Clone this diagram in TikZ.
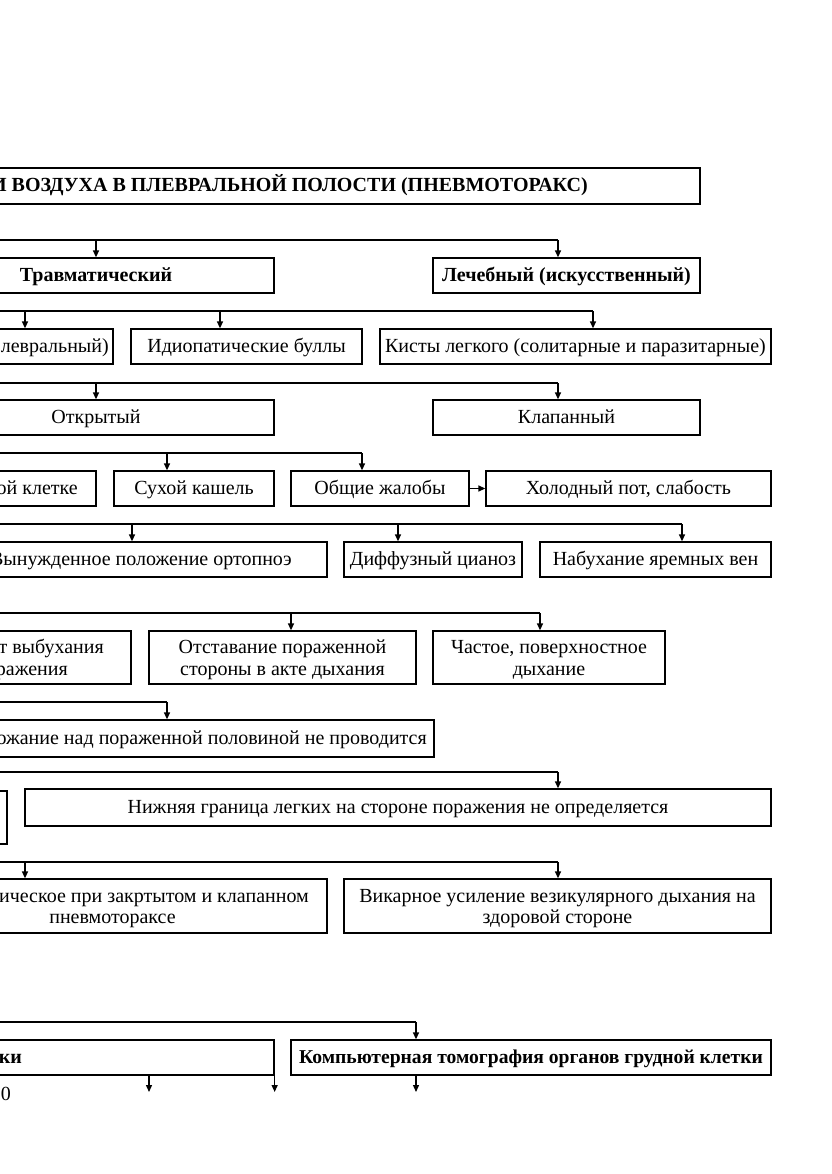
\documentclass[tikz,border=0pt]{standalone}
\usepackage{fontspec}
\setmainfont{Liberation Serif}
\usetikzlibrary{arrows.meta,calc}
\begin{document}
\begin{tikzpicture}[x=1pt,y=-1pt,
  bx/.style={draw, line width=1.3pt, inner sep=0pt, align=center, text height=15pt, text depth=3pt, font=\fontsize{20}{22}\selectfont},
  tx/.style={inner sep=0pt, align=center, text height=15pt, text depth=3pt, font=\fontsize{20}{22}\selectfont},
  btx/.style={inner sep=0pt, text height=15pt, text depth=3pt, font=\bfseries\fontsize{20}{22}\selectfont},
  ln/.style={line width=1.3pt},
  arr/.style={line width=1.3pt, -{Triangle[length=7pt,width=6pt]}}]
\useasboundingbox (0,0) rectangle (831,1174);
\clip (0,0) rectangle (831,1174);

% ---- title
\node[bx, minimum width=800pt, minimum height=36pt] (title) at (300,186) {};
\node[btx, anchor=east] (titlet) at (588,186) {И ВОЗДУХА В ПЛЕВРАЛЬНОЙ ПОЛОСТИ (ПНЕВМОТОРАКС)};

% ---- row 2
\node[bx, minimum width=356pt, minimum height=35pt] (trav) at (96,275.5) {\bfseries Травматический};
\node[bx, minimum width=267pt, minimum height=35pt] (lech) at (566.5,275.5) {\bfseries Лечебный (искусственный)};
\coordinate (b2w) at (-20,240); \coordinate (b2e) at (558,240);
\draw[ln] (b2w) -- (b2e);
\draw[arr] (b2w -| trav.north) -- (trav.north);
\draw[arr] (b2e) -- (b2e |- lech.north);

% ---- row 3
\node[bx, minimum width=263pt, minimum height=35pt] (spont) at (-18.5,346.5) {};
\node[tx, anchor=east] (spontt) at (109,346.5) {левральный)};
\node[bx, minimum width=231pt, minimum height=35pt] (idio) at (246.5,346.5) {Идиопатические буллы};
\node[bx, minimum width=391pt, minimum height=35pt] (kist) at (575.5,346.5) {Кисты легкого (солитарные и паразитарные)};
\coordinate (b3w) at (-20,311); \coordinate (b3e) at (593,311);
\coordinate (a3a) at (25,311); \coordinate (a3b) at (220,311);
\draw[ln] (b3w) -- (b3e);
\draw[arr] (a3a) -- (a3a |- spont.north);
\draw[arr] (a3b) -- (a3b |- idio.north);
\draw[arr] (b3e) -- (b3e |- kist.north);

% ---- row 4
\node[bx, minimum width=356pt, minimum height=35pt] (otkr) at (96,417.5) {Открытый};
\node[bx, minimum width=267pt, minimum height=35pt] (klap) at (566.5,417.5) {Клапанный};
\coordinate (b4w) at (-20,383); \coordinate (b4e) at (558,383);
\draw[ln] (b4w) -- (b4e);
\draw[arr] (b4w -| otkr.north) -- (otkr.north);
\draw[arr] (b4e) -- (b4e |- klap.north);

% ---- row 5
\node[bx, minimum width=246pt, minimum height=35pt] (bol) at (-27,488.5) {};
\node[tx, anchor=east] (bolt) at (78,488.5) {ой клетке};
\node[bx, minimum width=160pt, minimum height=35pt] (suh) at (194,488.5) {Сухой кашель};
\node[bx, minimum width=178pt, minimum height=35pt] (obsh) at (380,488.5) {Общие жалобы};
\node[bx, minimum width=285pt, minimum height=35pt] (holod) at (628.5,488.5) {Холодный пот, слабость};
\coordinate (b5w) at (-20,453); \coordinate (b5e) at (362,453);
\coordinate (a5a) at (167,453);
\draw[ln] (b5w) -- (b5e);
\draw[arr] (a5a) -- (a5a |- suh.north);
\draw[arr] (b5e) -- (b5e |- obsh.north);
\draw[arr] (obsh.east) -- (holod.west);

% ---- row 6
\node[bx, minimum width=477pt, minimum height=35pt] (vyn) at (88.5,559.5) {};
\node[tx, anchor=east] (vynt) at (292,559.5) {Вынужденное положение ортопноэ};
\node[bx, minimum width=178pt, minimum height=35pt] (diff) at (433,559.5) {Диффузный цианоз};
\node[bx, minimum width=231pt, minimum height=35pt] (nab) at (655.5,559.5) {Набухание яремных вен};
\coordinate (b6w) at (-20,524); \coordinate (b6e) at (682,524);
\coordinate (a6a) at (132,524); \coordinate (a6b) at (398,524);
\draw[ln] (b6w) -- (b6e);
\draw[arr] (a6a) -- (a6a |- vyn.north);
\draw[arr] (a6b) -- (a6b |- diff.north);
\draw[arr] (b6e) -- (b6e |- nab.north);

% ---- row 7
\node[bx, minimum width=281pt, minimum height=53pt] (asym) at (-9.5,657.5) {};
\node[tx, anchor=east] (asymt1) at (104,647) {т выбухания};
\node[tx, anchor=east] (asymt2) at (68,669) {ражения};
\node[bx, minimum width=267pt, minimum height=53pt] (otst) at (282.5,657.5) {};
\node[tx] (otst1) at (282.5,647) {Отставание пораженной};
\node[tx] (otst2) at (282.5,669) {стороны в акте дыхания};
\node[bx, minimum width=232pt, minimum height=53pt] (chast) at (549,657.5) {};
\node[tx] (chast1) at (549,647) {Частое, поверхностное};
\node[tx] (chast2) at (549,669) {дыхание};
\coordinate (b7w) at (-20,613); \coordinate (b7e) at (540,613);
\coordinate (a7a) at (291,613);
\draw[ln] (b7w) -- (b7e);
\draw[arr] (a7a) -- (a7a |- otst.north);
\draw[arr] (b7e) -- (b7e |- chast.north);

% ---- row 8
\node[bx, minimum width=584pt, minimum height=37pt] (golos) at (142,738.5) {};
\node[tx, anchor=east] (golost) at (427,738.5) {рожание над пораженной половиной не проводится};
\coordinate (b8w) at (-20,702); \coordinate (b8e) at (167,702);
\draw[ln] (b8w) -- (b8e);
\draw[arr] (b8e) -- (b8e |- golos.north);

% ---- row 9
\node[bx, minimum width=157pt, minimum height=53pt] (small) at (-71.5,817.5) {};
\node[bx, minimum width=746pt, minimum height=37pt] (nizh) at (398,807.5) {Нижняя граница легких на стороне поражения не определяется};
\coordinate (b9w) at (-20,772); \coordinate (b9e) at (558,772);
\draw[ln] (b9w) -- (b9e);
\draw[arr] (b9e) -- (b9e |- nizh.north);

% ---- row 10
\node[bx, minimum width=477pt, minimum height=54pt] (ausc) at (88.5,906) {};
\node[tx, anchor=east] (ausct1) at (309,896) {ическое при закртытом и клапанном};
\node[tx] (ausct2) at (112.5,917) {пневмотораксе};
\node[bx, minimum width=427pt, minimum height=54pt] (vik) at (557.5,906) {};
\node[tx] (vik1) at (557.5,896) {Викарное усиление везикулярного дыхания на};
\node[tx] (vik2) at (557.5,917) {здоровой стороне};
\coordinate (b10w) at (-20,862); \coordinate (b10e) at (558,862);
\coordinate (a10a) at (25,862);
\draw[ln] (b10w) -- (b10e);
\draw[arr] (a10a) -- (a10a |- ausc.north);
\draw[arr] (b10e) -- (b10e |- vik.north);

% ---- row 11
\node[bx, minimum width=424pt, minimum height=35pt] (rent) at (62,1057.5) {};
\node[btx, anchor=east] (rentt) at (22,1057.5) {ки};
\node[bx, minimum width=480pt, minimum height=35pt, font=\bfseries\fontsize{19.6}{22}\selectfont] (kt) at (531,1057.5) {Компьютерная томография органов грудной клетки};
\coordinate (b11w) at (-20,1022); \coordinate (b11e) at (416,1022);
\draw[ln] (b11w) -- (b11e);
\draw[arr] (b11e) -- (b11e |- kt.north);

% ---- arrows below
\coordinate (d1) at (149,1092); \coordinate (d3) at (416,1092);
\draw[arr] (d1 |- rent.south) -- (d1);
\draw[arr] (rent.south east) -- (rent.south east |- d1);
\draw[arr] (d3 |- kt.south) -- (d3);

\node[tx] (pg) at (6,1094) {0};
\end{tikzpicture}
\end{document}
